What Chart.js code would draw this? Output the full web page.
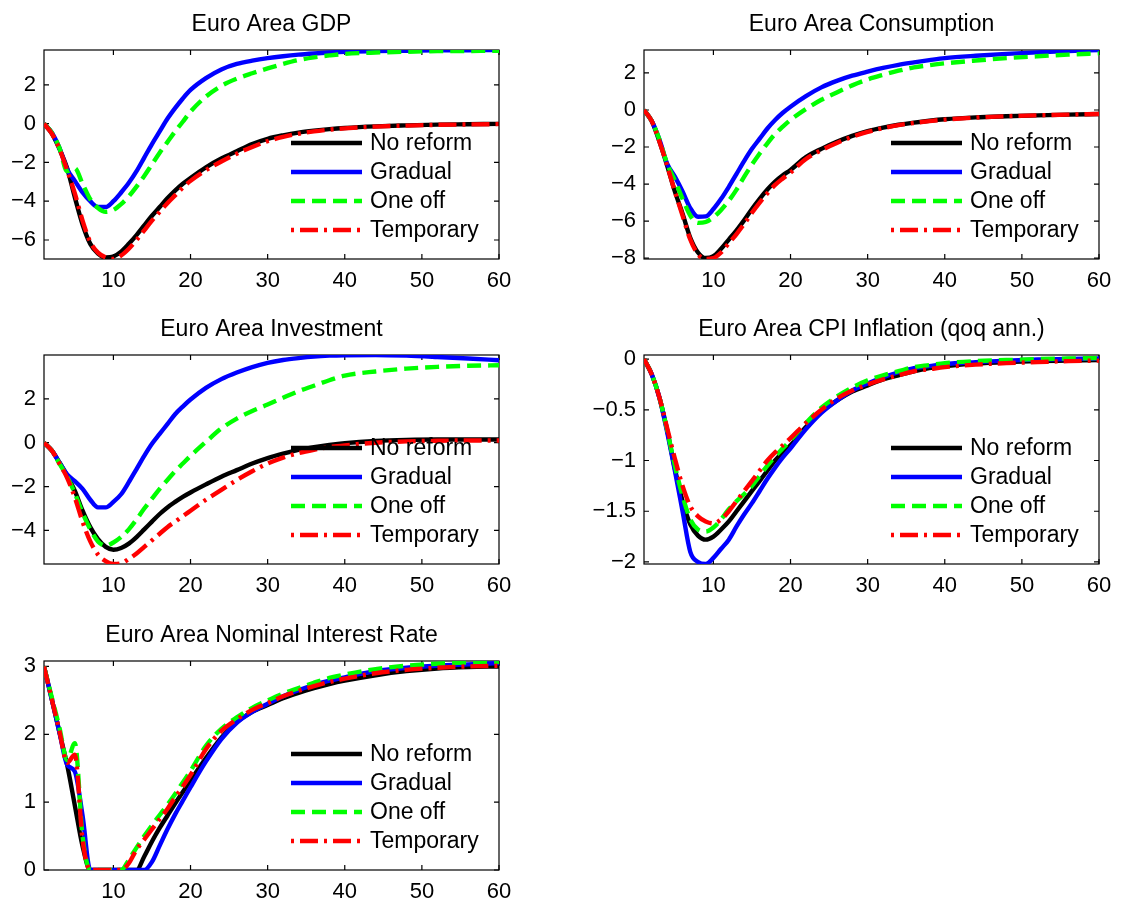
<!DOCTYPE html>
<html>
<head>
<meta charset="utf-8">
<title>Euro Area responses</title>
<script src="https://cdn.jsdelivr.net/npm/chart.js@4.4.1/dist/chart.umd.min.js"></script>
<style>
  body { margin: 0; background: #fff; overflow: hidden; }
  #page { position: relative; width: 1121px; height: 909px; overflow: hidden; }
  .panel { position: absolute; width: 539px; height: 300px; }
</style>
</head>
<body>
<div id="page">
  <div class="panel" style="left:-16px;top:0"><canvas id="c-gdp"></canvas></div>
  <div class="panel" style="left:584px;top:0"><canvas id="c-cons"></canvas></div>
  <div class="panel" style="left:-16px;top:305px"><canvas id="c-inv"></canvas></div>
  <div class="panel" style="left:584px;top:305px"><canvas id="c-cpi"></canvas></div>
  <div class="panel" style="left:-16px;top:611px"><canvas id="c-rate"></canvas></div>
</div>
<script>
const periods = [1, 2, 3, 4, 5, 6, 7, 8, 9, 10, 11, 12, 13, 14, 15, 16, 17, 18, 19, 20,
                 22, 24, 26, 28, 30, 32, 34, 36, 38, 40, 44, 48, 52, 56, 60];

const seriesNames = ['No reform', 'Gradual', 'One off', 'Temporary'];
const xTicks = [10, 20, 30, 40, 50, 60];

// --- GDP ---
const gdpNoReform  = [0, -0.5, -1.3, -2.3, -3.8, -5.2, -6.2, -6.7, -6.9, -6.85, -6.6, -6.2, -5.75, -5.25, -4.75, -4.3, -3.85, -3.45, -3.1, -2.8,
                      -2.25, -1.8, -1.42, -1.05, -0.78, -0.6, -0.46, -0.36, -0.28, -0.22, -0.14, -0.09, -0.05, -0.03, -0.01];
const gdpGradual   = [0, -0.45, -1.25, -2.35, -2.95, -3.55, -4.0, -4.3, -4.3, -4.0, -3.55, -3.05, -2.45, -1.75, -1.05, -0.4, 0.25, 0.8, 1.3, 1.74,
                      2.35, 2.8, 3.08, 3.25, 3.38, 3.48, 3.56, 3.62, 3.67, 3.71, 3.74, 3.76, 3.78, 3.79, 3.8];
const gdpOneOff    = [0, -0.45, -1.25, -2.45, -2.3, -3.1, -3.9, -4.35, -4.55, -4.45, -4.15, -3.75, -3.25, -2.7, -2.1, -1.5, -0.95, -0.4, 0.1, 0.62,
                      1.4, 1.95, 2.32, 2.6, 2.85, 3.08, 3.28, 3.42, 3.52, 3.6, 3.67, 3.71, 3.74, 3.75, 3.76];
const gdpTemporary = [0, -0.5, -1.3, -2.4, -3.6, -5.0, -6.1, -6.65, -6.9, -6.98, -6.8, -6.45, -6.0, -5.5, -5.0, -4.55, -4.1, -3.7, -3.3, -2.95,
                      -2.4, -1.95, -1.55, -1.2, -0.9, -0.68, -0.52, -0.4, -0.31, -0.24, -0.15, -0.1, -0.06, -0.04, -0.02];
const gdpTicks = [-6, -4, -2, 0, 2];

// --- Consumption ---
const consNoReform  = [0, -0.6, -1.7, -3.0, -4.4, -5.6, -6.9, -7.7, -8.0, -7.9, -7.5, -7.0, -6.5, -5.95, -5.35, -4.8, -4.3, -3.87, -3.53, -3.24,
                       -2.55, -2.1, -1.72, -1.4, -1.14, -0.95, -0.8, -0.68, -0.58, -0.5, -0.4, -0.34, -0.29, -0.25, -0.22];
const consGradual   = [0, -0.6, -1.6, -2.9, -3.6, -4.4, -5.3, -5.77, -5.75, -5.35, -4.8, -4.15, -3.45, -2.75, -2.1, -1.55, -1.0, -0.54, -0.15, 0.18,
                       0.75, 1.22, 1.57, 1.85, 2.07, 2.27, 2.44, 2.57, 2.69, 2.8, 2.93, 3.03, 3.11, 3.18, 3.24];
const consOneOff    = [0, -0.6, -1.6, -2.9, -3.8, -4.8, -5.7, -6.1, -6.05, -5.8, -5.4, -4.9, -4.3, -3.6, -2.95, -2.35, -1.8, -1.3, -0.9, -0.54,
                       0.05, 0.55, 0.95, 1.33, 1.65, 1.9, 2.12, 2.3, 2.42, 2.52, 2.67, 2.8, 2.9, 2.99, 3.06];
const consTemporary = [0, -0.6, -1.7, -3.0, -4.4, -5.7, -7.0, -7.8, -8.05, -8.0, -7.7, -7.2, -6.7, -6.15, -5.55, -5.0, -4.5, -4.05, -3.7, -3.38,
                       -2.65, -2.17, -1.78, -1.45, -1.18, -0.98, -0.82, -0.7, -0.6, -0.52, -0.41, -0.34, -0.29, -0.25, -0.22];
const consTicks = [-8, -6, -4, -2, 0, 2];

// --- Investment ---
const invNoReform  = [0, -0.35, -0.9, -1.5, -2.2, -3.1, -3.85, -4.4, -4.75, -4.88, -4.8, -4.6, -4.3, -3.95, -3.6, -3.25, -2.95, -2.7, -2.47, -2.27,
                      -1.9, -1.55, -1.25, -0.95, -0.7, -0.5, -0.33, -0.2, -0.1, -0.02, 0.08, 0.13, 0.15, 0.15, 0.15];
const invGradual   = [0, -0.35, -0.9, -1.45, -1.75, -2.1, -2.6, -2.95, -2.95, -2.7, -2.35, -1.8, -1.2, -0.6, -0.05, 0.4, 0.85, 1.3, 1.65, 1.97,
                      2.5, 2.9, 3.2, 3.45, 3.64, 3.77, 3.86, 3.93, 3.97, 3.99, 4.0, 3.97, 3.91, 3.84, 3.76];
const invOneOff    = [0, -0.35, -0.95, -1.55, -2.3, -3.2, -3.95, -4.5, -4.7, -4.55, -4.3, -3.95, -3.5, -3.0, -2.55, -2.1, -1.7, -1.3, -0.95, -0.6,
                      0.04, 0.65, 1.1, 1.45, 1.74, 2.05, 2.35, 2.6, 2.85, 3.06, 3.25, 3.38, 3.46, 3.51, 3.53];
const invTemporary = [0, -0.35, -0.95, -1.6, -2.5, -3.6, -4.5, -5.1, -5.4, -5.53, -5.5, -5.3, -5.05, -4.75, -4.45, -4.15, -3.85, -3.6, -3.35, -3.1,
                      -2.6, -2.15, -1.7, -1.3, -0.95, -0.68, -0.47, -0.32, -0.2, -0.12, 0.0, 0.06, 0.09, 0.1, 0.1];
const invTicks = [-4, -2, 0, 2];

// --- CPI inflation (qoq annualised) ---
const cpiNoReform  = [0, -0.15, -0.38, -0.7, -1.08, -1.4, -1.63, -1.74, -1.78, -1.75, -1.68, -1.6, -1.5, -1.4, -1.3, -1.2, -1.1, -1.0, -0.92, -0.85,
                      -0.67, -0.52, -0.41, -0.32, -0.26, -0.2, -0.16, -0.12, -0.09, -0.07, -0.045, -0.03, -0.02, -0.015, -0.01];
const cpiGradual   = [0, -0.15, -0.38, -0.72, -1.1, -1.5, -1.9, -2.0, -2.02, -1.96, -1.87, -1.78, -1.65, -1.53, -1.42, -1.3, -1.18, -1.07, -0.97, -0.88,
                      -0.69, -0.53, -0.41, -0.31, -0.24, -0.18, -0.13, -0.09, -0.07, -0.05, -0.03, -0.015, -0.005, 0.0, 0.005];
const cpiOneOff    = [0, -0.15, -0.38, -0.7, -1.05, -1.35, -1.58, -1.68, -1.7, -1.66, -1.58, -1.48, -1.4, -1.33, -1.25, -1.15, -1.05, -0.96, -0.88, -0.8,
                      -0.63, -0.48, -0.37, -0.28, -0.21, -0.16, -0.12, -0.08, -0.06, -0.04, -0.02, -0.01, 0.0, 0.005, 0.01];
const cpiTemporary = [0, -0.15, -0.38, -0.68, -0.98, -1.25, -1.45, -1.55, -1.6, -1.62, -1.58, -1.5, -1.4, -1.3, -1.2, -1.1, -1.0, -0.92, -0.85, -0.78,
                      -0.63, -0.5, -0.39, -0.31, -0.25, -0.2, -0.16, -0.12, -0.1, -0.08, -0.055, -0.04, -0.03, -0.02, -0.015];
const cpiTicks = [-2, -1.5, -1, -0.5, 0];

// --- Nominal interest rate ---
const rateNoReform  = [3.0, 2.52, 2.03, 1.55, 0.95, 0.35, 0, 0, 0, 0, 0, 0, 0, 0.2, 0.42, 0.62, 0.8, 0.98, 1.15, 1.32,
                       1.65, 1.95, 2.18, 2.33, 2.43, 2.53, 2.61, 2.68, 2.74, 2.79, 2.87, 2.93, 2.97, 2.99, 3.0];
const rateGradual   = [3.0, 2.52, 2.03, 1.55, 1.45, 0.8, 0, 0, 0, 0, 0, 0, 0, 0, 0.12, 0.36, 0.6, 0.82, 1.02, 1.22,
                       1.6, 1.93, 2.17, 2.33, 2.45, 2.56, 2.65, 2.73, 2.79, 2.84, 2.93, 2.98, 3.01, 3.03, 3.05];
const rateOneOff    = [3.0, 2.55, 2.1, 1.62, 1.87, 0.5, 0, 0, 0, 0, 0, 0.15, 0.33, 0.5, 0.66, 0.81, 0.96, 1.12, 1.29, 1.46,
                       1.83, 2.08, 2.25, 2.39, 2.5, 2.6, 2.68, 2.76, 2.83, 2.88, 2.96, 3.01, 3.04, 3.06, 3.07];
const rateTemporary = [3.0, 2.52, 2.05, 1.58, 1.7, 0.45, 0, 0, 0, 0, 0, 0.1, 0.3, 0.45, 0.6, 0.75, 0.9, 1.07, 1.23, 1.4,
                       1.78, 2.05, 2.22, 2.36, 2.46, 2.56, 2.64, 2.71, 2.77, 2.82, 2.9, 2.95, 2.98, 3.0, 3.01];
const rateTicks = [0, 1, 2, 3];

const panels = [
  { id: 'c-gdp',  title: 'Euro Area GDP',                      series: [gdpNoReform, gdpGradual, gdpOneOff, gdpTemporary],     yMin: -6.98, yMax: 3.8,  yTicks: gdpTicks },
  { id: 'c-cons', title: 'Euro Area Consumption',              series: [consNoReform, consGradual, consOneOff, consTemporary], yMin: -8.05, yMax: 3.24, yTicks: consTicks },
  { id: 'c-inv',  title: 'Euro Area Investment',               series: [invNoReform, invGradual, invOneOff, invTemporary],     yMin: -5.53, yMax: 4.0,  yTicks: invTicks },
  { id: 'c-cpi',  title: 'Euro Area CPI Inflation (qoq ann.)', series: [cpiNoReform, cpiGradual, cpiOneOff, cpiTemporary],     yMin: -2.02, yMax: 0.04, yTicks: cpiTicks },
  { id: 'c-rate', title: 'Euro Area Nominal Interest Rate',    series: [rateNoReform, rateGradual, rateOneOff, rateTemporary], yMin: 0,     yMax: 3.08, yTicks: rateTicks }
];

// line styles, matlab-ish
const lineColors = ['#000000', '#0000ff', '#00ff00', '#ff0000'];
const lineDashes = [[], [], [14, 7], [18, 6, 3, 6]];
const FONT = '"Liberation Sans", Arial, Helvetica, sans-serif';

Chart.defaults.font.family = FONT;
Chart.defaults.color = '#000';

// box round the axes plus inward ticks on all four sides
const boxAxes = {
  id: 'boxAxes',
  beforeDatasetsDraw(chart) {
    const { ctx, chartArea: a, scales } = chart;
    const t = 5;
    ctx.save();
    ctx.strokeStyle = '#000';
    ctx.lineWidth = 1.2;
    ctx.strokeRect(a.left, a.top, a.right - a.left, a.bottom - a.top);
    ctx.beginPath();
    scales.x.ticks.forEach(tk => {
      const px = scales.x.getPixelForValue(tk.value);
      ctx.moveTo(px, a.bottom); ctx.lineTo(px, a.bottom - t);
      ctx.moveTo(px, a.top);    ctx.lineTo(px, a.top + t);
    });
    scales.y.ticks.forEach(tk => {
      const py = scales.y.getPixelForValue(tk.value);
      ctx.moveTo(a.left, py);  ctx.lineTo(a.left + t, py);
      ctx.moveTo(a.right, py); ctx.lineTo(a.right - t, py);
    });
    ctx.stroke();
    ctx.restore();
  }
};

// legend inside the lower right corner, no frame
const cornerLegend = {
  id: 'cornerLegend',
  afterDatasetsDraw(chart) {
    const { ctx, chartArea: a } = chart;
    ctx.save();
    ctx.font = '23px ' + FONT;
    ctx.textBaseline = 'middle';
    ctx.textAlign = 'left';
    chart.data.datasets.forEach((ds, i) => {
      const yy = a.bottom - 116 + 29 * i;
      const dash = ds.borderDash;
      ctx.beginPath();
      ctx.strokeStyle = ds.borderColor;
      ctx.lineWidth = ds.borderWidth;
      ctx.lineCap = 'butt';
      ctx.setLineDash(dash);
      // dash-dot sample starts on the dot, like the original
      ctx.lineDashOffset = dash.length === 4 ? dash[0] + dash[1] : 0;
      ctx.moveTo(a.right - 208, yy);
      ctx.lineTo(a.right - 137, yy);
      ctx.stroke();
      ctx.setLineDash([]);
      ctx.fillStyle = '#000';
      ctx.fillText(ds.label, a.right - 129, yy + 1);
    });
    ctx.restore();
  }
};

function fmtTick(v) {
  return String(v).replace('-', '\u2212');
}

panels.forEach(p => {
  const datasets = p.series.map((vals, i) => ({
    label: seriesNames[i],
    data: vals.map((v, k) => ({ x: periods[k], y: v })),
    borderColor: lineColors[i],
    borderWidth: 4.4,
    borderDash: lineDashes[i],
    borderCapStyle: 'butt',
    borderJoinStyle: 'round',
    pointRadius: 0,
    cubicInterpolationMode: 'monotone',
    fill: false,
    clip: 0,
    order: 4 - i
  }));

  new Chart(document.getElementById(p.id), {
    type: 'line',
    data: { datasets },
    options: {
      responsive: true,
      maintainAspectRatio: false,
      animation: false,
      layout: { padding: { left: 0, right: 24, top: 0, bottom: 0 } },
      plugins: {
        legend: { display: false },
        tooltip: { enabled: false },
        title: {
          display: true,
          text: p.title,
          fullSize: false,
          color: '#000',
          font: { size: 23, weight: 'normal', lineHeight: 1.2 },
          padding: { top: 11, bottom: 11.4 }
        }
      },
      scales: {
        x: {
          type: 'linear',
          min: 1,
          max: 60,
          grid: { display: false, drawTicks: false },
          border: { display: false },
          afterBuildTicks: ax => { ax.ticks = xTicks.map(v => ({ value: v })); },
          afterFit: ax => { ax.height = 41; },
          ticks: { font: { size: 22 }, color: '#000', padding: 9, maxRotation: 0, autoSkip: false, callback: fmtTick }
        },
        y: {
          type: 'linear',
          min: p.yMin,
          max: p.yMax,
          grid: { display: false, drawTicks: false },
          border: { display: false },
          afterBuildTicks: ax => { ax.ticks = p.yTicks.map(v => ({ value: v })); },
          afterFit: ax => { ax.width = 60; },
          ticks: { font: { size: 22 }, color: '#000', padding: 8, autoSkip: false, callback: fmtTick }
        }
      }
    },
    plugins: [boxAxes, cornerLegend]
  });
});
</script>
</body>
</html>
